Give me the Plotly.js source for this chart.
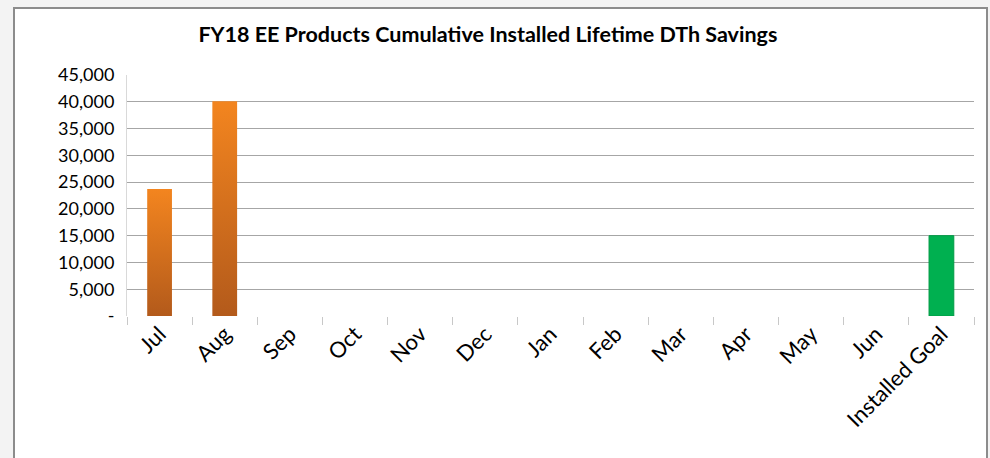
<!DOCTYPE html>
<html>
<head>
<meta charset="utf-8">
<script src="https://cdn.plot.ly/plotly-3.0.1.min.js"></script>
<style>
  html, body { margin: 0; padding: 0; background: #f3f3f3; overflow: hidden; }
  #frame {
    position: absolute; left: 13px; top: 7px; width: 971px; height: 460px;
    background: #ffffff; border: 2px solid #8c8c8c; border-bottom: none;
  }
</style>
</head>
<body>
<div id="frame"><div id="plot"></div></div>
<script>
// months of the fiscal year and cumulative installed savings (DTh)
let months = ['Jul', 'Aug', 'Sep', 'Oct', 'Nov', 'Dec', 'Jan', 'Feb', 'Mar', 'Apr', 'May', 'Jun'];
let savings = [23700, 40100, null, null, null, null, null, null, null, null, null, null];
let goalLabel = ['Installed Goal'];
let goalValue = [15000];

let yTicks = [0, 5000, 10000, 15000, 20000, 25000, 30000, 35000, 40000, 45000];
let yTickText = ['-', '5,000', '10,000', '15,000', '20,000', '25,000', '30,000', '35,000', '40,000', '45,000'];

let title = 'FY18 EE Products Cumulative Installed Lifetime DTh Savings';

let trace1 = {
  x: months,
  y: savings,
  name: 'Cumulative',
  type: 'bar',
  marker: { color: '#d7701f' },
  hoverinfo: 'x+y'
};

let trace2 = {
  x: goalLabel,
  y: goalValue,
  name: 'Goal',
  type: 'bar',
  marker: { color: '#00b050', line: { color: '#009a45', width: 1 } },
  hoverinfo: 'x+y'
};

let layout = {
  width: 971,
  height: 460,
  margin: { l: 112, r: 12, t: 66, b: 153 },
  paper_bgcolor: 'rgba(0,0,0,0)',
  plot_bgcolor: 'rgba(0,0,0,0)',
  showlegend: false,
  barmode: 'overlay',
  bargap: 0.62,
  title: {
    text: '<b>' + title + '</b>',
    font: { family: 'Lato, sans-serif', size: 21.5, color: '#000' },
    x: 0.487, xanchor: 'center',
    yref: 'container', y: 0.945, yanchor: 'middle'
  },
  xaxis: {
    categoryorder: 'array',
    categoryarray: months.concat(goalLabel),
    tickangle: -45,
    tickfont: { family: 'Lato, sans-serif', size: 22, color: '#000' },
    ticks: 'outside',
    tickson: 'boundaries',
    ticklen: 8,
    tickcolor: '#c8c8c8',
    showline: false,
    showgrid: false
  },
  yaxis: {
    range: [0, 45000],
    tickvals: yTicks,
    ticktext: yTickText,
    tickfont: { family: 'Lato, sans-serif', size: 18, color: '#000' },
    ticks: '',
    ticklabelstandoff: 8,
    showgrid: true,
    gridcolor: '#a6a6a6',
    gridwidth: 1,
    zeroline: false,
    showline: true,
    linecolor: '#d9d9d9',
    linewidth: 1
  }
};

Plotly.newPlot('plot', [trace1, trace2], layout, { displayModeBar: false, staticPlot: true }).then(function (gd) {
  // orange bars fade from light to dark like the original
  let svg = gd.querySelector('.main-svg');
  let ns = 'http://www.w3.org/2000/svg';
  let defs = svg.querySelector('defs') || svg.insertBefore(document.createElementNS(ns, 'defs'), svg.firstChild);
  let grad = document.createElementNS(ns, 'linearGradient');
  grad.setAttribute('id', 'orangeGrad');
  grad.setAttribute('x1', '0'); grad.setAttribute('y1', '0');
  grad.setAttribute('x2', '0'); grad.setAttribute('y2', '1');
  [['0%', '#f3851f'], ['100%', '#b35a1b']].forEach(function (s) {
    let stop = document.createElementNS(ns, 'stop');
    stop.setAttribute('offset', s[0]);
    stop.setAttribute('stop-color', s[1]);
    grad.appendChild(stop);
  });
  defs.appendChild(grad);
  let traces = gd.querySelectorAll('.barlayer .trace');
  traces[0].querySelectorAll('path').forEach(function (p) {
    p.style.fill = 'url(#orangeGrad)';
  });
});
</script>
</body>
</html>
